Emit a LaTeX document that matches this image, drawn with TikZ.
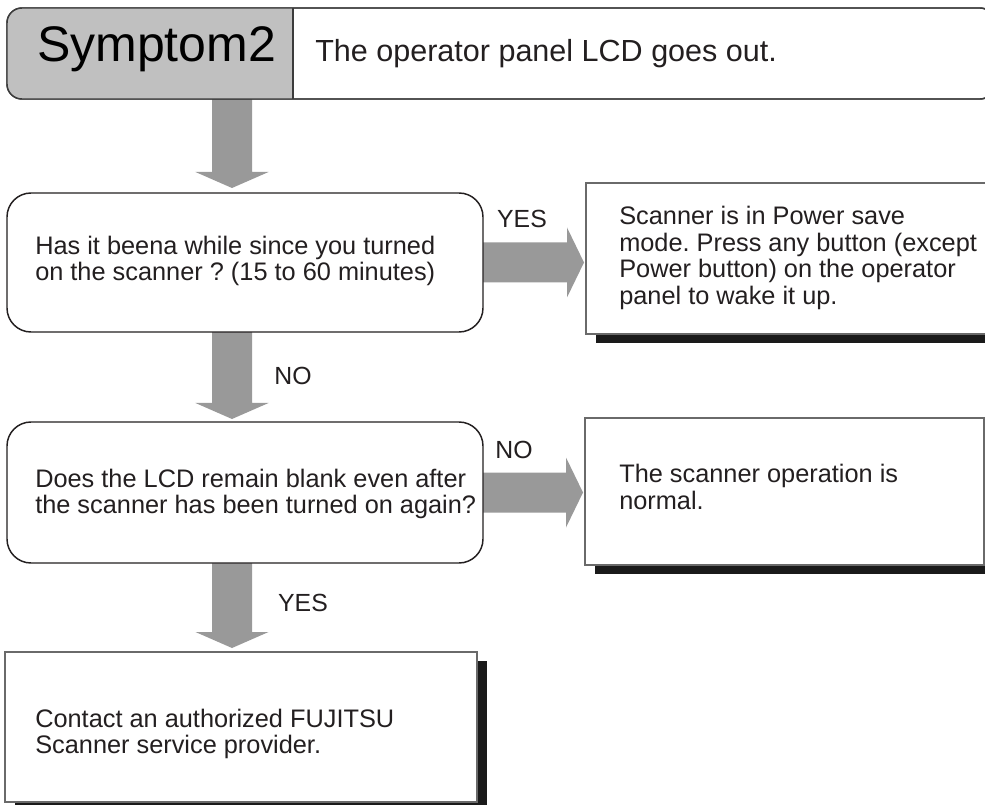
\documentclass[tikz,border=0pt]{standalone}
\usepackage{fontspec}
\setmainfont{Liberation Sans}
\usetikzlibrary{calc,shadows,backgrounds}
\definecolor{txt}{HTML}{231F20}
\definecolor{hdrgray}{HTML}{C0C0C0}
\definecolor{hdrline}{HTML}{3C3C3C}
\definecolor{arrgray}{HTML}{999999}
\definecolor{resline}{HTML}{6A6A6A}
\definecolor{shad}{HTML}{1A1A1A}
\newcommand\blkdown[2]{\fill[arrowfill] let \p1=#1, \p2=#2 in
  (\x1-15pt,\y1) -- (\x1-15pt,\y2+12pt) -- (\x1-27.4pt,\y2+12pt) -- (\x1,\y2)
  -- (\x1+27.4pt,\y2+12pt) -- (\x1+15pt,\y2+12pt) -- (\x1+15pt,\y1) -- cycle;}
\newcommand\blkright[2]{\fill[arrowfill] let \p1=#1, \p2=#2 in
  (\x1,\y1+15pt) -- (\x2-12.75pt,\y1+15pt) -- (\x2-12.75pt,\y1+26.25pt) -- (\x2,\y1)
  -- (\x2-12.75pt,\y1-26.25pt) -- (\x2-12.75pt,\y1-15pt) -- (\x1,\y1-15pt) -- cycle;}
\begin{document}
\frenchspacing
\begin{tikzpicture}[x=0.75pt,y=-0.75pt,
  arrowfill/.style={fill=arrgray},
  decision/.style={draw=txt, line width=1.1pt, rounded corners=18pt, fill=white,
    outer sep=0pt, inner sep=0pt},
  result/.style={draw=resline, line width=0.8pt, fill=white, outer sep=0pt, inner sep=0pt,
    drop shadow={shadow xshift=7.5pt, shadow yshift=-6.75pt, fill=shad, opacity=1}},
  btext/.style={font=\fontsize{19pt}{19.9pt}\selectfont\frenchspacing, align=left, inner sep=0pt, text=txt},
  lbl/.style={font=\fontsize{18.6pt}{20pt}\selectfont, inner sep=0pt, text=txt}]
\useasboundingbox (0,0) rectangle (985,805);
\clip (0,0) rectangle (985,805);

% header
\node[draw=hdrline, line width=1.1pt, rounded corners=11.25pt, fill=white, outer sep=0pt,
  minimum width=741pt, minimum height=68.25pt] (hdr) at (501,53.5) {};
\coordinate (div) at (293,0);
\begin{scope}
  \clip[rounded corners=11.25pt] (hdr.north west) rectangle (hdr.south east);
  \fill[hdrgray] (hdr.north west) rectangle (hdr.south west -| div);
\end{scope}
\draw[hdrline, line width=1.1pt, rounded corners=11.25pt] (hdr.north west) rectangle (hdr.south east);
\draw[hdrline, line width=0.8pt] (hdr.north -| div) -- (hdr.south -| div);
\node[anchor=base, inner sep=0pt, text=black] (sym) at (156.5,62)
  {\fontsize{37.5pt}{40pt}\selectfont Symptom2};
\node[anchor=base west, inner sep=0pt, text=txt] (htxt) at (315,62)
  {\fontsize{22.9pt}{26pt}\selectfont The operator panel LCD goes out.};

% decision boxes
\node[decision, minimum width=357pt, minimum height=104.25pt] (b1) at (245,262.5) {};
\node[btext, anchor=west] (t1) at (35,261)
  {Has it beena while since you turned\\on the scanner ? (15 to 60 minutes)};
\node[decision, minimum width=357pt, minimum height=105.75pt] (b3) at (245,492.5) {};
\node[btext, anchor=west] (t3) at (35,494)
  {Does the LCD remain blank even after\\the scanner has been turned on again?};

% result boxes
\node[result, minimum width=310.5pt, minimum height=113.25pt] (r1) at (793,258.5) {};
\node[btext, anchor=west] (t2) at (619,258)
  {Scanner is in Power save\\mode. Press any button (except\\Power button) on the operator\\panel to wake it up.};
\node[result, minimum width=299.25pt, minimum height=110.25pt] (r2) at (784.5,491.5) {};
\node[btext, anchor=west] (t4) at (619,487)
  {The scanner operation is\\normal.};
\node[result, minimum width=354pt, minimum height=112.5pt] (r3) at (241,727) {};
\node[btext, anchor=west] (t5) at (35,734)
  {Contact an authorized FUJITSU\\Scanner service provider.};

% labels
\node[lbl] (yes1) at (522,219) {YES};
\node[lbl] (no1) at (293,376) {NO};
\node[lbl] (no2) at (514,450) {NO};
\node[lbl] (yes2) at (303,603) {YES};

% block arrows
\coordinate (ax) at (232,0);
\begin{scope}[on background layer]
  \fill[white] (0,0) rectangle (985,805);
  \blkdown{(hdr.south -| ax)}{($(b1.north -| ax)+(0,-5)$)}
  \blkdown{(b1.south -| ax)}{($(b3.north -| ax)+(0,-3)$)}
  \blkdown{(b3.south -| ax)}{($(r3.north -| ax)+(0,-4)$)}
  \blkright{(b1.east)}{($(r1.west |- b1.east)+(-2,0)$)}
  \blkright{(b3.east)}{($(r2.west |- b3.east)+(-2,0)$)}
\end{scope}
\end{tikzpicture}
\end{document}
